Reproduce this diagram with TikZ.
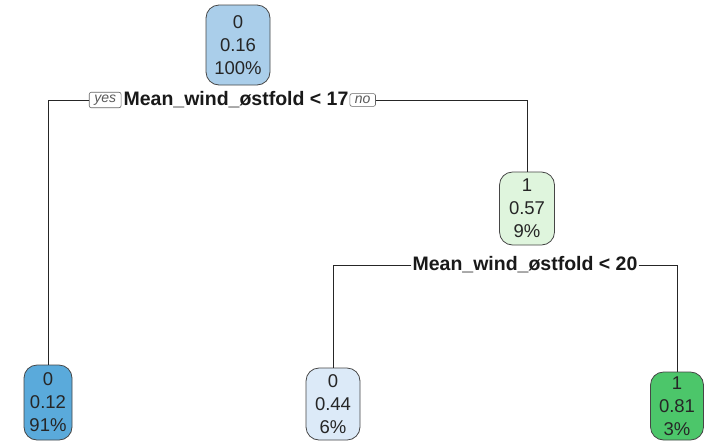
\documentclass[tikz,border=0pt]{standalone}
\usepackage{fontspec}
\setmainfont{Liberation Sans}
\definecolor{cRoot}{RGB}{170,206,234}
\definecolor{cL1}{RGB}{90,170,219}
\definecolor{cL2}{RGB}{220,234,248}
\definecolor{cN1}{RGB}{223,245,221}
\definecolor{cL3}{RGB}{76,198,106}
\definecolor{cBorder}{RGB}{70,70,70}
\tikzset{
  tnode/.style={draw=cBorder, line width=0.8pt, rounded corners=13pt, align=center,
    font=\fontsize{18.5}{23}\selectfont, inner xsep=3pt, inner ysep=2pt, text=black!85},
  split/.style={font=\bfseries\fontsize{19.5}{22}\selectfont, inner sep=1pt, text=black!90},
  yn/.style={draw=black!60, line width=0.6pt, rounded corners=2pt, fill=white,
    font=\itshape\fontsize{14}{15}\selectfont, text=black!65, inner xsep=5pt, inner ysep=2.5pt},
  edge/.style={draw=black!85, line width=0.7pt}
}
\begin{document}
\begin{tikzpicture}[x=1pt,y=-1pt]
\useasboundingbox (0,0) rectangle (711,445);
\fill[white] (0,0) rectangle (711,445);
% nodes
\node[tnode, fill=cRoot, minimum width=64pt, minimum height=80pt] (root) at (238,45) {0\\0.16\\100\%};
\node[tnode, fill=cN1, minimum width=55pt, minimum height=73pt] (n1) at (527,208.5) {1\\0.57\\9\%};
\node[tnode, fill=cL1, minimum width=48pt, minimum height=75pt] (l1) at (48,402.5) {0\\0.12\\91\%};
\node[tnode, fill=cL2, minimum width=54pt, minimum height=72pt] (l2) at (333,404) {0\\0.44\\6\%};
\node[tnode, fill=cL3, minimum width=53pt, minimum height=68pt] (l3) at (677,406) {1\\0.81\\3\%};
% split labels
\node[split] (s1) at (236,100) {Mean\_wind\_østfold < 17};
\node[yn, anchor=east] (yes) at ([xshift=-1pt]s1.west) {yes};
\node[yn, anchor=west] (no) at ([xshift=0pt]s1.east) {no};
\node[split] (s2) at (525,265) {Mean\_wind\_østfold < 20};
% connectors
\draw[edge] (yes.west) -| (l1.north);
\draw[edge] (no.east) -| (n1.north);
\draw[edge] (s2.west) -| (l2.north);
\draw[edge] (s2.east) -| (l3.north);
\end{tikzpicture}
\end{document}
